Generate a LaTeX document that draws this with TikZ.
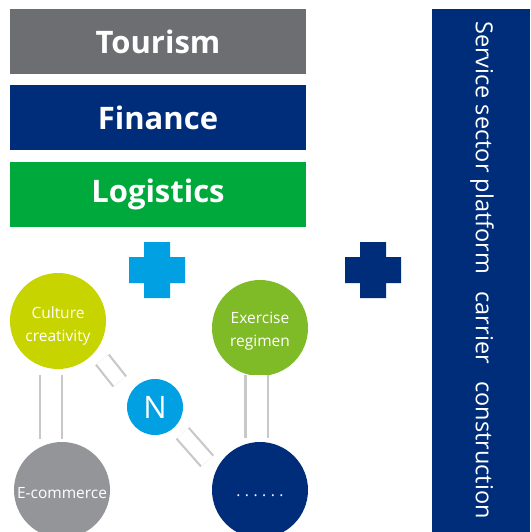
\documentclass[tikz,border=0pt]{standalone}
\usepackage{fontspec}
\setmainfont{Open Sans}
\definecolor{tourgray}{RGB}{109,110,113}
\definecolor{darkblue}{RGB}{0,45,122}
\definecolor{loggreen}{RGB}{0,169,60}
\definecolor{plusblue}{RGB}{0,160,226}
\definecolor{limegreen}{RGB}{200,212,0}
\definecolor{exgreen}{RGB}{127,186,39}
\definecolor{ecomgray}{RGB}{147,149,152}
\definecolor{linegray}{RGB}{200,200,200}
\usetikzlibrary{positioning,calc}

\begin{document}
\begin{tikzpicture}[x=1pt,y=-1pt,
  bar/.style={rectangle,minimum width=296pt,minimum height=65pt,inner sep=0pt,
    text=white,font=\fontsize{31}{36}\selectfont\bfseries},
  topic/.style={circle,minimum size=96pt,inner sep=0pt},
  lab/.style={text=white,align=center,font=\fontsize{15.5}{23.5}\selectfont},
  link/.style={draw=linegray,line width=2.2pt,double=white,double distance=14pt},
  vlink/.style={link,double distance=20pt}
  ]
  \useasboundingbox (0,0) rectangle (530,532);

  % the sectors
  \node[bar,fill=tourgray] (tour) at (158,41.5) {Tourism};
  \node[bar,fill=darkblue,below=11pt of tour] (fin) {Finance};
  \node[bar,fill=loggreen,below=11pt of fin] (log) {Logistics};

  % the platform
  \node[rectangle,fill=darkblue,minimum width=98pt,minimum height=523pt,inner sep=0pt,
    anchor=north west] (plat) at (432,9) {};
  \node[text=white,rotate=-90,font=\fontsize{23.5}{26}\selectfont] (platlab) at (482,270)
    {Service sector platform\hspace{0.75em}carrier\hspace{0.75em}construction};

  % the plus signs
  \fill[plusblue] (129,257) rectangle (185,283) (144,242) rectangle (170,298);
  \fill[darkblue] (345,257) rectangle (401,283) (360,242) rectangle (386,298);

  % the circles
  \node[topic,fill=limegreen,label={[lab,yshift=-5pt]center:{Culture\\creativity}}]
    (cult) at (58,321) {};
  \node[topic,fill=exgreen,label={[lab,yshift=-3pt]center:{Exercise\\regimen}}]
    (ex) at (260,328) {};
  \node[topic,fill=ecomgray,label={[lab,yshift=-3pt]center:E-commerce}]
    (ecom) at (62,490) {};
  \node[topic,fill=darkblue,label={[lab,yshift=-6pt]center:
    {.\hspace{4.5pt}.\hspace{4.5pt}.\hspace{4.5pt}.\hspace{4.5pt}.\hspace{4.5pt}.}}]
    (dots) at (260,490) {};
  \node[circle,fill=plusblue,minimum size=56pt,inner sep=0pt,text=white,
    font=\fontsize{31}{34}\selectfont] (nn) at (155,407) {N};

  % the links
  \draw[vlink] ([shift={(-7,6)}]cult.south) -- ([shift={(-11,-3)}]ecom.north);
  \draw[vlink] ([shift={(-3.5,-1)}]ex.south) -- ([shift={(-3.5,-4)}]dots.north);
  \draw[link] ([shift={(8,7)}]cult.-41) -- ([shift={(-14,-7)}]nn.139);
  \draw[link] ([shift={(7,7)}]nn.-43) -- ([shift={(-16,2)}]dots.140);
\end{tikzpicture}
\end{document}
